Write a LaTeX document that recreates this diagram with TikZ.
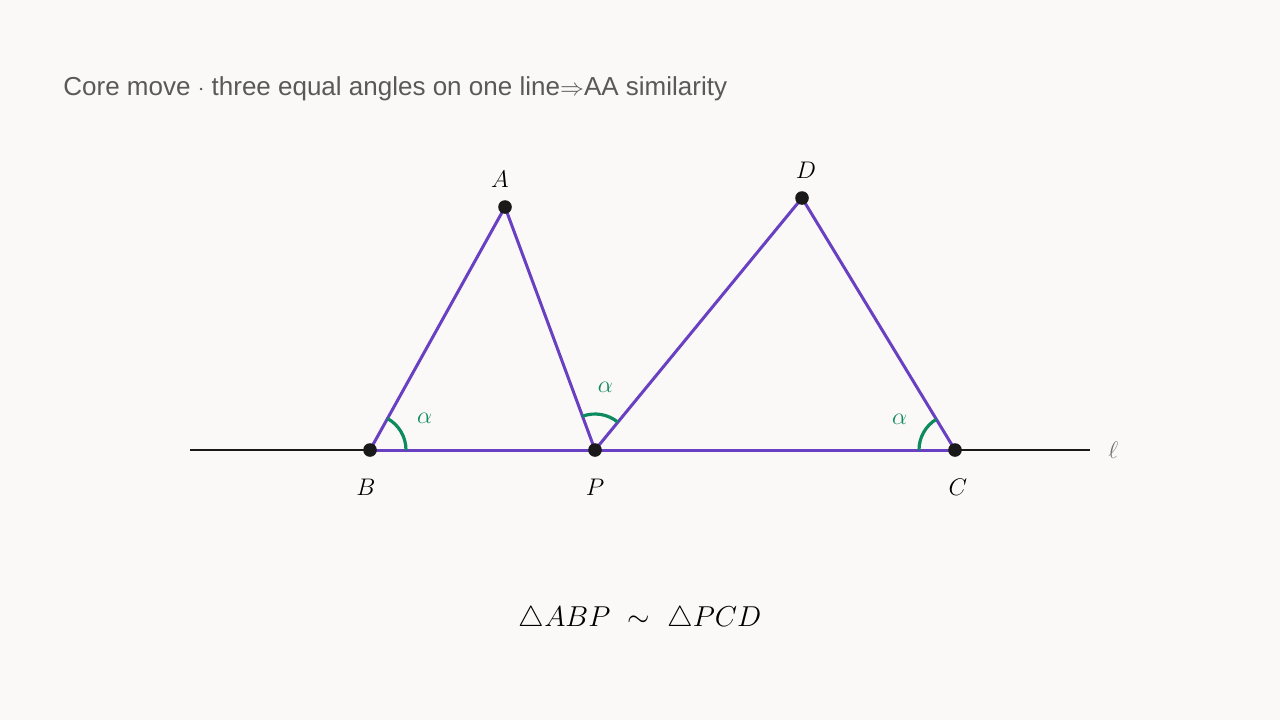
\documentclass[tikz,border=0pt]{standalone}
\usepackage{fontspec}
\newfontfamily\titlefont{Liberation Sans}
\usetikzlibrary{positioning,angles,quotes}
\definecolor{bgpaper}{HTML}{FAF9F7}
\definecolor{segviolet}{HTML}{6A40C2}
\definecolor{anglegreen}{HTML}{0E8A5F}
\definecolor{titlegray}{HTML}{595959}
\tikzset{seg/.style={segviolet,line width=1.5pt,line join=round},
         lineL/.style={black!90,line width=1pt},
         dot/.style={circle,fill=black!90,inner sep=0pt,minimum size=6.8pt},
         lbl/.style={inner sep=0pt,font=\fontsize{13}{15}\selectfont},
         anglemark/.style={draw=anglegreen,line width=1.6pt,angle radius=18pt,angle eccentricity=1.76,
                           text=anglegreen,font=\fontsize{11.5}{13}\selectfont}
}

\begin{document}
\begin{tikzpicture}[x=0.5pt,y=0.5pt]

\useasboundingbox[fill=bgpaper] (0,0) rectangle (1280,720);

\node[anchor=west,inner sep=0pt,text=titlegray,font=\titlefont\fontsize{13}{15}\selectfont] (title) at (63,631)
  {Core move $\cdot$ three equal angles on one line$\Rightarrow$AA similarity};

\coordinate (B) at (370,270);
\coordinate (P) at (595,270);
\coordinate (C) at (955,270);
\coordinate (A) at (505,513);
\coordinate (D) at (802,522);
\coordinate (lstart) at (190,270);
\coordinate (lend) at (1090,270);

\draw[lineL] (lstart)--(lend);
\draw[seg] (B)--(A)--(P);
\draw[seg] (P)--(D)--(C);
\draw[seg] (B)--(C);

\pic[anglemark,"$\alpha$"] {angle=P--B--A};
\pic[anglemark,"$\alpha$"] {angle=D--P--A};
\pic[anglemark,"$\alpha$"] {angle=D--C--B};

\node[dot] (dotA) at (A) {};
\node[dot] (dotB) at (B) {};
\node[dot] (dotP) at (P) {};
\node[dot] (dotC) at (C) {};
\node[dot] (dotD) at (D) {};

\node[lbl,above=9.5pt of A,xshift=-2.5pt] (labA) {$A$};
\node[lbl,below=14.5pt of B,xshift=-2pt] (labB) {$B$};
\node[lbl,below=14.5pt of P] (labP) {$P$};
\node[lbl,below=14.5pt of C,xshift=1.5pt] (labC) {$C$};
\node[lbl,above=9.5pt of D,xshift=2pt] (labD) {$D$};
\node[lbl,right=9pt of lend,text=black!55] (labL) {$\ell$};

\node[font=\fontsize{14.1}{17}\selectfont] (simil) at (640,101) {$\triangle ABP\ \sim\ \triangle PCD$};

\end{tikzpicture}
\end{document}
